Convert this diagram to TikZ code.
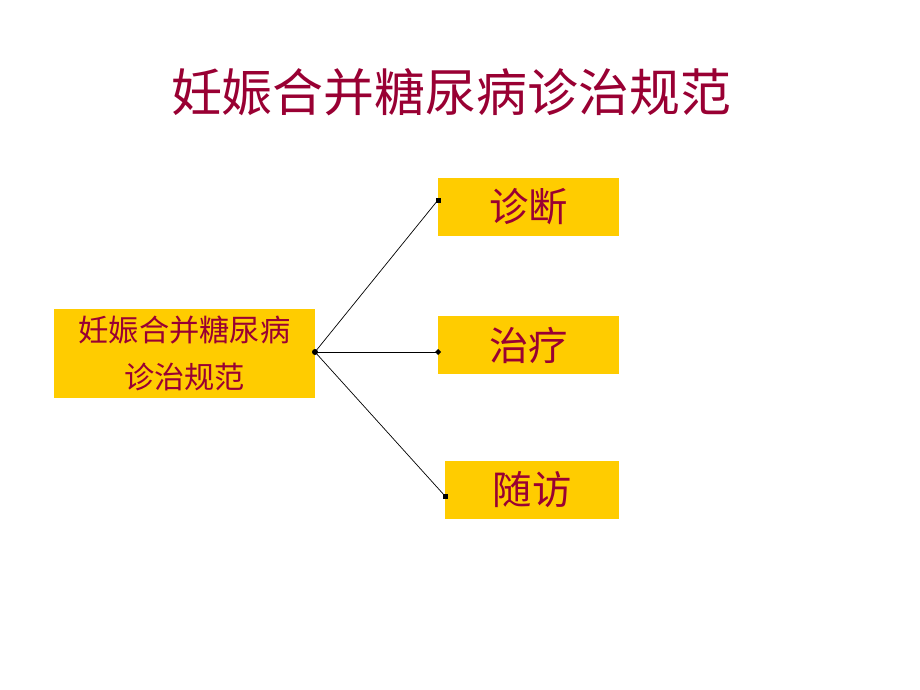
\documentclass[tikz,border=0pt]{standalone}
\usepackage{fontspec}
\newfontfamily\cjk{Noto Sans CJK SC}
\usepackage{tikz}
\usetikzlibrary{positioning,arrows}

\definecolor{boxyellow}{HTML}{FFCC00}
\definecolor{wine}{HTML}{990033}

\begin{document}
\begin{tikzpicture}[x=0.025cm,y=-0.025cm,semithick,
                    line width=0.6pt]
  \tikzstyle{topic}=[fill=boxyellow,text=wine,inner sep=0pt,
                     font=\cjk\fontsize{28}{32}\selectfont]
  \tikzstyle{link}=[draw=black,line width=0.5pt]
  \tikzstyle{dot}=[fill=black]

  \useasboundingbox (0,0) rectangle (920,690);

  \node[text=wine,font=\cjk\fontsize{36.2}{42}\selectfont] (title) at (451,92)
        {妊娠合并糖尿病诊治规范};

  \node[topic,minimum width=261*0.025cm,minimum height=89*0.025cm,
        align=center,font=\cjk\fontsize{21.5}{33}\selectfont]
        (main) at (184.5,353.5) {妊娠合并糖尿病\\诊治规范};
  \node[topic,minimum width=181*0.025cm,minimum height=58*0.025cm]
        (diag) at (528.5,207) {诊断};
  \node[topic,minimum width=181*0.025cm,minimum height=58*0.025cm]
        (treat) at (528.5,345) {治疗};
  \node[topic,minimum width=174*0.025cm,minimum height=58*0.025cm]
        (follow) at (532,490) {随访};

  % connector ends
  \coordinate (hub) at (315,352);
  \coordinate (d) at (438,200);
  \coordinate (t) at (438,352);
  \coordinate (f) at (445,496);

  \draw[link] (hub) -- (d);
  \draw[link] (hub) -- (t);
  \draw[link] (hub) -- (f);

  \fill[dot] (hub) circle (3);
  \fill[dot] (d) ++(-2.5,-2.5) rectangle ++(5,5);
  \fill[dot] (t) ++(-3,0) -- ++(3,-3) -- ++(3,3) -- ++(-3,3) -- cycle;
  \fill[dot] (f) ++(-2.5,-2.5) rectangle ++(5,5);
\end{tikzpicture}
\end{document}
